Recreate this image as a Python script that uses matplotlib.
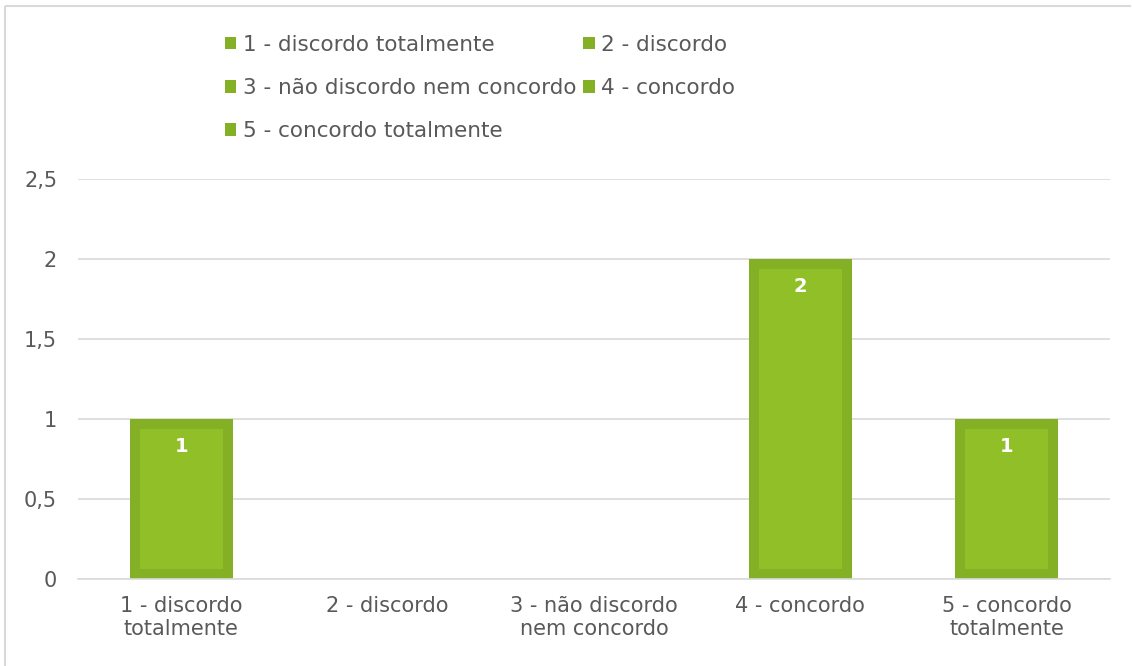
import matplotlib
matplotlib.use("Agg")
import matplotlib.pyplot as plt
import numpy as np
from matplotlib.patches import Patch
from matplotlib.lines import Line2D

categories = ["1 - discordo totalmente", "2 - discordo", "3 - não discordo nem concordo",
              "4 - concordo", "5 - concordo totalmente"]
tick_labels = ["1 - discordo\ntotalmente", "2 - discordo", "3 - não discordo\nnem concordo",
               "4 - concordo", "5 - concordo\ntotalmente"]
counts = [1, 0, 0, 2, 1]
y_ticks = [0, 0.5, 1, 1.5, 2, 2.5]
y_tick_labels = ["0", "0,5", "1", "1,5", "2", "2,5"]

edge_green = "#84B026"
fill_green = "#90BF27"
text_gray = "#595959"
grid_gray = "#D9D9D9"

plt.rcParams["font.family"] = ["DejaVu Sans"]
fig = plt.figure(figsize=(1132 / 100, 666 / 100), dpi=100)
fig.patch.set_linewidth(0)
ax = fig.add_axes([78 / 1132, 87 / 666, 1032 / 1132, 400 / 666])

x = np.arange(len(categories))
values = np.array(counts, dtype=float)

# outer (darker) bar, then lighter inner bar inset by ~10 px
ax.bar(x, values, width=0.5, color=edge_green, zorder=2)
inset_x = 10 / 206.4
inset_y = 10 / 160
mask = values > 0
ax.bar(x[mask], values[mask] - 2 * inset_y, bottom=inset_y, width=0.5 - 2 * inset_x,
       color=fill_green, zorder=3)

for xi, v in zip(x, values):
    if v > 0:
        ax.annotate("{:g}".format(v), (xi, v), xytext=(0, -20), textcoords="offset points",
                    ha="center", va="center", color="white", fontsize=14, fontweight="bold", zorder=4)

ax.set_xlim(-0.5, len(categories) - 0.5)
ax.set_ylim(0, 2.5)
ax.set_yticks(y_ticks)
ax.set_yticklabels(y_tick_labels)
ax.set_xticks(x)
ax.set_xticklabels(tick_labels, linespacing=1.2)
ax.tick_params(axis="both", length=0, colors=text_gray, labelsize=15)
ax.tick_params(axis="y", pad=15)
ax.tick_params(axis="x", pad=12)
ax.yaxis.grid(True, color=grid_gray, linewidth=1.2, zorder=0)
ax.set_axisbelow(True)
for side in ["top", "right", "left"]:
    ax.spines[side].set_visible(False)
ax.spines["bottom"].set_color(grid_gray)
ax.spines["bottom"].set_linewidth(1.2)

# legend: row-major order in two columns
handles = [Patch(facecolor=edge_green, edgecolor="none", label=c) for c in categories]
order = [0, 2, 4, 1, 3]
fig.legend([handles[i] for i in order], [categories[i] for i in order], ncol=2,
           loc="upper left", bbox_to_anchor=(216 / 1132, 1 - 26 / 666), frameon=False,
           fontsize=15.5, labelcolor=text_gray, handlelength=0.55, handleheight=0.55,
           handletextpad=0.3, columnspacing=0.3, labelspacing=1.08, borderaxespad=0)

# light chart border: only top and left edges are visible
bx, by = 5 / 1132, 1 - 6 / 666
fig.add_artist(Line2D([bx, 0.999], [by, by], transform=fig.transFigure, color=grid_gray,
                      linewidth=1.5, solid_capstyle="butt"))
fig.add_artist(Line2D([bx, bx], [0.0, by], transform=fig.transFigure, color=grid_gray,
                      linewidth=1.5, solid_capstyle="butt"))

fig.savefig("out.png", dpi=100)
